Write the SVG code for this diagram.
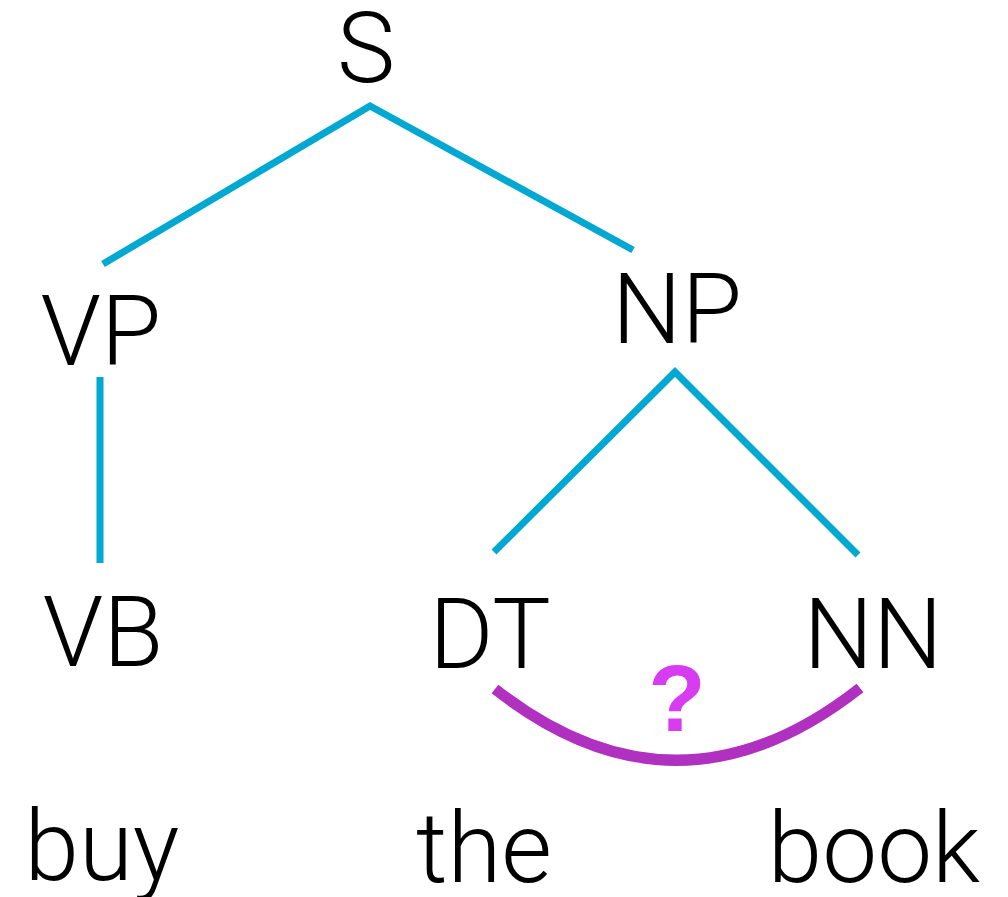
<svg xmlns="http://www.w3.org/2000/svg" width="1008" height="897" viewBox="0 0 1008 897">
  <style>
    .lbl { font-family: Roboto, "Liberation Sans", Arial, sans-serif; font-weight: 300; font-size: 98px; fill: #000; text-anchor: middle; }
    .edge { stroke: #00A8D2; stroke-width: 7; fill: none; stroke-linecap: butt; }
    .rel { stroke: #B030C0; stroke-width: 11; fill: none; }
    .q { font-family: "Liberation Sans", Arial, sans-serif; font-weight: bold; font-size: 94px; fill: #D83CF0; text-anchor: middle; }
  </style>
  <rect width="1008" height="897" fill="#fff"/>

  <!-- tree edges and the DT–NN relation arc -->
  <g id="connectors">
    <polyline class="edge" points="103,264 370,106 633,250"/>
    <line class="edge" x1="100" y1="377" x2="100" y2="563"/>
    <polyline class="edge" points="494,552 675,372 858,555"/>
    <path class="rel" d="M495,689 Q677,832 860,688"/>
  </g>

  <g id="node-S"><text class="lbl" x="366" y="82">S</text></g>
  <g id="node-VP"><text class="lbl" x="101" y="365">VP</text></g>
  <g id="node-NP"><text class="lbl" x="677" y="343">NP</text></g>
  <g id="node-VB"><text class="lbl" x="103" y="666">VB</text></g>
  <g id="node-DT"><text class="lbl" x="490" y="668">DT</text></g>
  <g id="node-NN"><text class="lbl" x="873" y="668">NN</text></g>
  <g id="word-buy"><text class="lbl" x="102" y="880">buy</text></g>
  <g id="word-the"><text class="lbl" x="484" y="882">the</text></g>
  <g id="word-book"><text class="lbl" x="874" y="882">book</text></g>
  <g id="relation-mark"><text class="q" x="677" y="731">?</text></g>
</svg>
